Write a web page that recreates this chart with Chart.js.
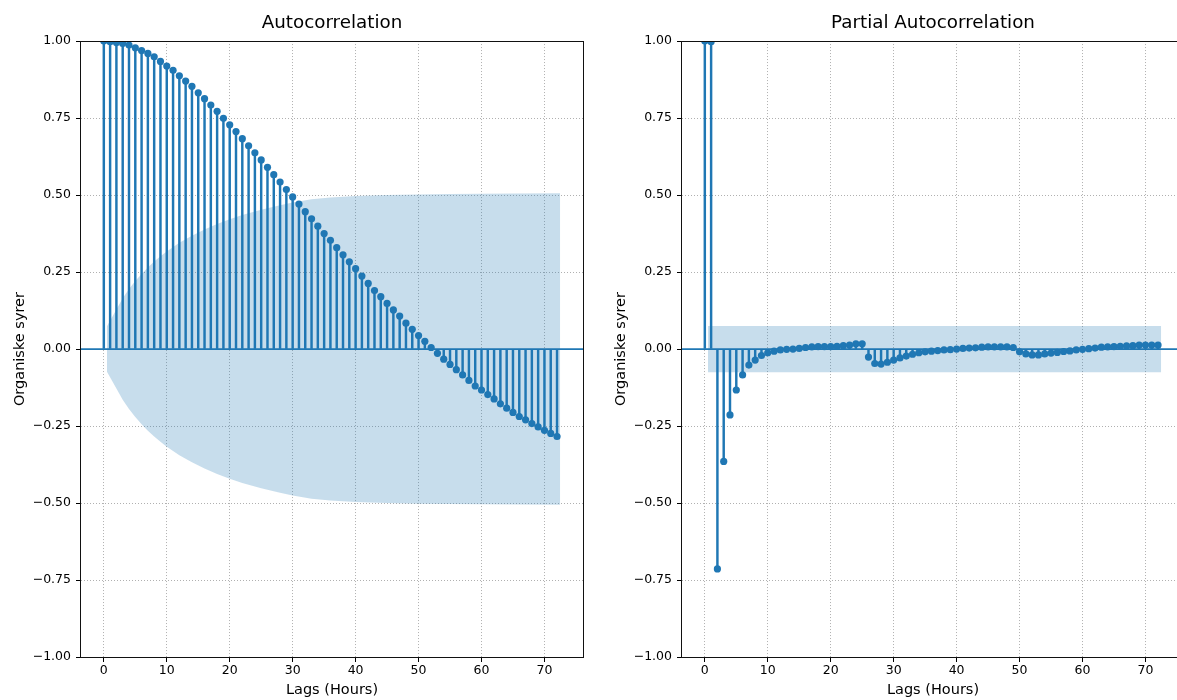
<!DOCTYPE html>
<html><head><meta charset="utf-8">
<script src="https://cdn.jsdelivr.net/npm/chart.js@4.4.0/dist/chart.umd.min.js"></script>
<style>
html,body{margin:0;padding:0;background:#fff;overflow:hidden;width:1177px;height:700px;position:relative;}
canvas{position:absolute;top:0;}
#c1{left:0px}
#c2{left:601px}
</style></head><body>
<canvas id="c1" width="600" height="700"></canvas>
<canvas id="c2" width="600" height="700"></canvas>
<script>
// ---- data ----
const lags = [0,1,2,3,4,5,6,7,8,9,10,11,12,13,14,15,16,17,18,19,20,21,22,23,24,25,26,27,28,29,30,31,32,33,34,35,36,37,38,39,40,41,42,43,44,45,46,47,48,49,50,51,52,53,54,55,56,57,58,59,60,61,62,63,64,65,66,67,68,69,70,71,72];
const acfValues = [1.000,0.998,0.995,0.992,0.987,0.978,0.969,0.960,0.949,0.934,
  0.919,0.905,0.887,0.870,0.853,0.832,0.813,0.792,0.772,0.749,
  0.728,0.706,0.683,0.660,0.637,0.614,0.590,0.566,0.542,0.518,
  0.494,0.471,0.446,0.423,0.399,0.375,0.353,0.329,0.306,0.283,
  0.261,0.237,0.213,0.190,0.170,0.148,0.127,0.107,0.084,0.064,
  0.044,0.025,0.005,-0.014,-0.033,-0.050,-0.067,-0.084,-0.102,-0.120,
  -0.133,-0.148,-0.162,-0.178,-0.192,-0.206,-0.219,-0.230,-0.242,-0.253,
  -0.264,-0.274,-0.284];
const pacfValues = [1.000,0.998,-0.714,-0.365,-0.214,-0.133,-0.084,-0.052,-0.036,-0.021,
  -0.012,-0.007,-0.003,-0.001,0.000,0.002,0.005,0.007,0.008,0.008,
  0.008,0.009,0.011,0.013,0.017,0.017,-0.026,-0.047,-0.049,-0.043,
  -0.036,-0.029,-0.023,-0.017,-0.012,-0.009,-0.007,-0.005,-0.003,-0.002,
  0.000,0.002,0.003,0.004,0.006,0.007,0.007,0.007,0.007,0.005,
  -0.009,-0.016,-0.019,-0.019,-0.016,-0.013,-0.011,-0.008,-0.006,-0.003,
  -0.001,0.001,0.003,0.006,0.007,0.008,0.009,0.010,0.011,0.013,
  0.013,0.013,0.013];
const acfBandLags  = [0.5,2,3,4,5,6,7,8,9,10,12,14,16,18,20,22,25,28,30,33,36,40,45,50,55,60,66,72.5];
const acfBandUpper = [0.074,0.128,0.165,0.195,0.221,0.244,0.265,0.284,0.301,0.317,0.345,0.368,0.388,0.406,0.421,0.435,0.452,0.467,0.476,0.486,0.492,0.497,0.500,0.502,0.503,0.504,0.505,0.506];
const acfBandLower = [-0.074,-0.128,-0.165,-0.195,-0.221,-0.244,-0.265,-0.284,-0.301,-0.317,-0.345,-0.368,-0.388,-0.406,-0.421,-0.435,-0.452,-0.467,-0.476,-0.486,-0.492,-0.497,-0.500,-0.502,-0.503,-0.504,-0.505,-0.506];
const pacfBandLags  = [0.5,72.5];
const pacfBandUpper = [0.075,0.075];
const pacfBandLower = [-0.075,-0.075];
const xTickValues = [0,10,20,30,40,50,60,70];
const yTickValues = [-1,-0.75,-0.5,-0.25,0,0.25,0.5,0.75,1];
const xRange = [-3.625, 76.125];
const yRange = [-1, 1];
const titles = ['Autocorrelation','Partial Autocorrelation'];
const xLabel = 'Lags (Hours)';
const yLabel = 'Organiske syrer';

// ---- styles ----
const C0 = '#1f77b4';
const BAND = 'rgba(31,119,180,0.25)';
Chart.defaults.font.family = "'DejaVu Sans', sans-serif";
Chart.defaults.color = '#000';

function pts(xs, ys){ return xs.map((x,i)=>({x:x, y:ys[i]})); }

const framePlugin = {
  id:'frame',
  afterDatasetsDraw(chart){
    const {ctx, chartArea:a} = chart;
    ctx.save();
    ctx.strokeStyle = '#111';
    ctx.lineWidth = 1;
    ctx.strokeRect(Math.round(a.left)-0.5, Math.round(a.top)+0.5, Math.round(a.right-a.left)+1, Math.round(a.bottom-a.top));
    ctx.restore();
  }
};

function gridOpts(){
  return { offset:false, color:'#b0b0b0', lineWidth:1, borderDash:[1,2], drawTicks:true, tickLength:5,
           tickColor:'#000', tickWidth:1, tickBorderDash:[] };
}

function makeChart(id, title, values, bLags, bUp, bLo){
  return new Chart(document.getElementById(id), {
    type:'scatter',
    data:{ datasets:[
      { type:'line', data:pts(bLags,bUp), borderWidth:0, borderColor:'transparent', pointRadius:0, fill:'+1', backgroundColor:BAND, order:5 },
      { type:'line', data:pts(bLags,bLo), borderWidth:0, borderColor:'transparent', pointRadius:0, fill:false, order:5 },
      { type:'line', data:[{x:xRange[0],y:0},{x:xRange[1],y:0}], borderColor:C0, borderWidth:1.8, pointRadius:0, fill:false, order:4 },
      { type:'bar', data:pts(lags,values), backgroundColor:C0, barThickness:1.8, order:3 },
      { type:'scatter', data:pts(lags,values), pointRadius:3.6, pointBackgroundColor:C0, pointBorderWidth:0, pointBorderColor:C0, clip:0, order:1 }
    ]},
    options:{
      responsive:false, animation:false, devicePixelRatio:1, events:[],
      layout:{ padding:{ left:0, right:17, top:0, bottom:0 } },
      plugins:{
        legend:{ display:false }, tooltip:{ enabled:false },
        title:{ display:true, text:title, fullSize:false, font:{ size:18.3, weight:'normal' }, color:'#000', padding:{ top:12, bottom:7.1 } }
      },
      scales:{
        x:{ type:'linear', min:xRange[0], max:xRange[1], offset:false,
            afterBuildTicks: ax => { ax.ticks = xTickValues.map(v=>({value:v})); },
            afterFit: s => { s.height = 43; },
            ticks:{ font:{ size:12.5 }, color:'#000', padding:1, maxRotation:0, autoSkip:false, callback: v => String(v) },
            grid: gridOpts(),
            border:{ display:false, dash:[1,2] },
            title:{ display:true, text:xLabel, font:{ size:14.5 }, color:'#000', padding:{ top:0, bottom:1.5 } } },
        y:{ type:'linear', min:yRange[0], max:yRange[1], offset:false,
            afterBuildTicks: ax => { ax.ticks = yTickValues.map(v=>({value:v})); },
            afterFit: s => { s.width = 81; },
            ticks:{ font:{ size:12.5 }, color:'#000', padding:5, autoSkip:false,
                    callback: v => (v < 0 ? '\u2212' : '') + Math.abs(v).toFixed(2) },
            grid: gridOpts(),
            border:{ display:false, dash:[1,2] },
            title:{ display:true, text:yLabel, font:{ size:14.5 }, color:'#000', padding:{ top:12, bottom:0 } } }
      }
    },
    plugins:[framePlugin]
  });
}

makeChart('c1', titles[0], acfValues, acfBandLags, acfBandUpper, acfBandLower);
makeChart('c2', titles[1], pacfValues, pacfBandLags, pacfBandUpper, pacfBandLower);
</script>
</body></html>
